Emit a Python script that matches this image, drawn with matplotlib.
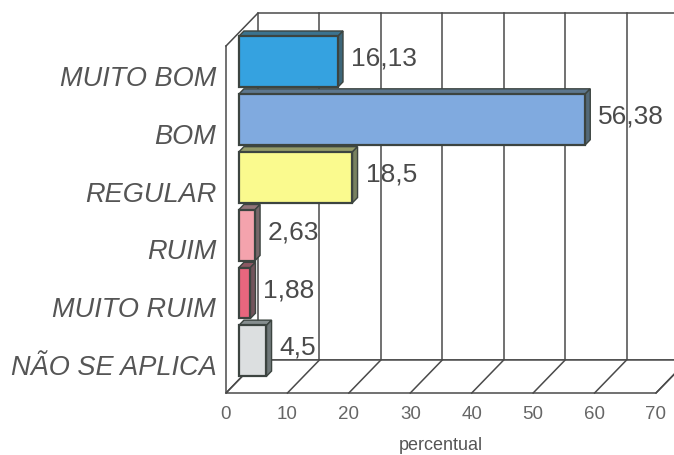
import matplotlib
matplotlib.use("Agg")
import matplotlib.pyplot as plt
from matplotlib.patches import Polygon

categories = ["MUITO BOM", "BOM", "REGULAR", "RUIM", "MUITO RUIM", "NÃO SE APLICA"]
values = [16.13, 56.38, 18.5, 2.63, 1.88, 4.5]
value_labels = ["16,13", "56,38", "18,5", "2,63", "1,88", "4,5"]
face_colors = ["#35a2e0", "#80aadf", "#fafa8e", "#f4a3ad", "#e8667e", "#dcdfe0"]
x_ticks = [0, 10, 20, 30, 40, 50, 60, 70]
x_label = "percentual"

W, H = 674, 456
fig = plt.figure(figsize=(W / 100, H / 100), dpi=100)
fig.patch.set_facecolor("white")

# front plane of the 3D box, in pixels
left_px, right_px, floor_px, top_px = 226, 656, 394, 47
ax = fig.add_axes([left_px / W, 1 - floor_px / H,
                   (right_px - left_px) / W, (floor_px - top_px) / H])
XMAX = 70
NROW = len(categories)
ax.set_xlim(0, XMAX)
ax.set_ylim(0, NROW)
ax.set_facecolor("none")
for s in ax.spines.values():
    s.set_visible(False)

px_x = XMAX / (right_px - left_px)
px_y = NROW / (floor_px - top_px)
DX = 32 * px_x          # depth offset (x)
DY = 33 * px_y          # depth offset (y)

line_c = "#4a4a4a"
lw = 1.1

# back wall
ax.add_patch(Polygon([(DX, DY), (XMAX + DX, DY), (XMAX + DX, NROW + DY), (DX, NROW + DY)],
                     closed=True, facecolor="white", edgecolor=line_c, lw=lw,
                     clip_on=False, zorder=1))
for t in x_ticks[1:-1]:
    ax.plot([t + DX, t + DX], [DY, NROW + DY], color=line_c, lw=lw, clip_on=False, zorder=1.5)

# floor with depth lines at each tick
ax.add_patch(Polygon([(0, 0), (XMAX, 0), (XMAX + DX, DY), (DX, DY)], closed=True,
                     facecolor="white", edgecolor=line_c, lw=lw, clip_on=False, zorder=1.6))
for t in x_ticks:
    ax.plot([t, t + DX], [0, DY], color=line_c, lw=lw, clip_on=False, zorder=1.7)

# left wall outline
ax.plot([0, 0], [0, NROW], color=line_c, lw=lw, clip_on=False, zorder=1.8)
ax.plot([0, DX], [NROW, NROW + DY], color=line_c, lw=lw, clip_on=False, zorder=1.8)


def shade(hexc, f):
    r, g, b = matplotlib.colors.to_rgb(hexc)
    return (r * f + 0.25 * (1 - f), g * f + 0.3 * (1 - f), b * f + 0.3 * (1 - f))


# bars sit part-way into the depth of the box
d0, dt = 0.40, 0.16
bar_h = 0.88
edge_c = "#3c4440"
for i, (cat, v, lab, fc) in enumerate(zip(categories, values, value_labels, face_colors)):
    yc = NROW - 0.5 - i
    x0 = d0 * DX
    y0 = yc - bar_h / 2 + d0 * DY
    x1 = v + x0
    y1 = y0 + bar_h
    ox, oy = dt * DX, dt * DY
    z = 3 + i
    # top face
    ax.add_patch(Polygon([(x0, y1), (x1, y1), (x1 + ox, y1 + oy), (x0 + ox, y1 + oy)],
                         closed=True, facecolor=shade(fc, 0.45), edgecolor=edge_c,
                         lw=1.0, clip_on=False, zorder=z))
    # side face
    ax.add_patch(Polygon([(x1, y0), (x1 + ox, y0 + oy), (x1 + ox, y1 + oy), (x1, y1)],
                         closed=True, facecolor=shade(fc, 0.3), edgecolor=edge_c,
                         lw=1.0, clip_on=False, zorder=z))
    # front face
    ax.add_patch(Polygon([(x0, y0), (x1, y0), (x1, y1), (x0, y1)], closed=True,
                         facecolor=fc, edgecolor=edge_c, lw=1.6, clip_on=False, zorder=z + 0.5))
    ax.text(x1 + ox + 8 * px_x, yc + d0 * DY + 4 * px_y, lab, fontsize=19,
            family="Liberation Sans", color="#4a4a4a", ha="left", va="center",
            zorder=20)

ax.set_xticks(x_ticks)
ax.set_xticklabels([str(t) for t in x_ticks], fontsize=13.5, family="Liberation Sans",
                   color="#666666")
ax.tick_params(axis="x", length=0, pad=9)
ax.set_yticks([NROW - 0.5 - i for i in range(NROW)])
ax.set_yticklabels(categories, fontsize=19.5, family="Liberation Sans", style="italic",
                   color="#555555")
ax.tick_params(axis="y", length=0, pad=7)
ax.set_xlabel(x_label, fontsize=13, family="Liberation Sans", color="#555555", labelpad=10)

fig.savefig("out.png", dpi=100, facecolor="white")
